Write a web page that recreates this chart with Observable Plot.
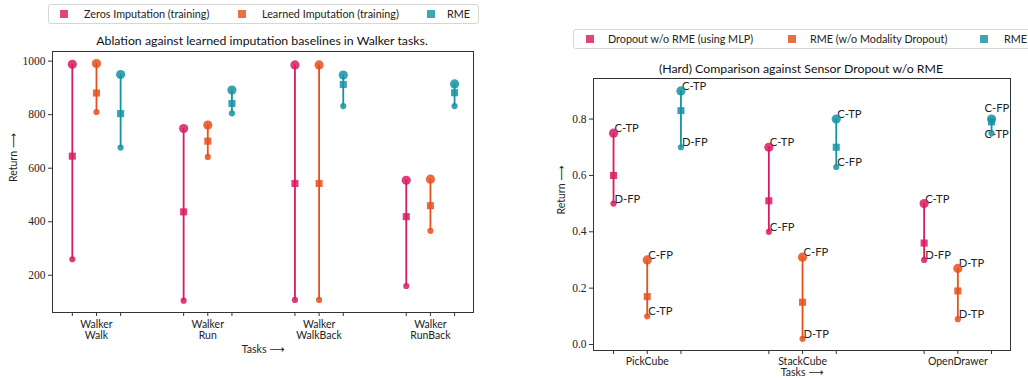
<!DOCTYPE html>
<html><head><meta charset="utf-8">
<script src="https://cdn.jsdelivr.net/npm/d3@7"></script>
<script src="https://cdn.jsdelivr.net/npm/@observablehq/plot@0.6"></script>
<style>
body{margin:0;width:1028px;height:378px;overflow:hidden;background:#fff;font-family:Lato,"DejaVu Sans",sans-serif;position:relative;color:#222}
.legend{position:absolute;border:1px solid #d6d6d6;border-radius:3px;box-sizing:border-box;font-size:10.8px}
.legend .sw{position:absolute;width:8px;height:8px;opacity:.82}
.legend .lt{position:absolute;white-space:nowrap;line-height:13px}
.title{position:absolute;font-size:12.3px;color:#111;transform:translate(-50%,-50%);white-space:nowrap}
.chart{position:absolute}
.serif-ticks, .serif-ticks text{font-family:"Liberation Serif","DejaVu Serif",serif !important}
</style></head><body>
<div id="legL" class="legend" style="left:48px;top:4px;width:431px;height:20px"></div>
<div class="title" style="left:262px;top:40px">Ablation against learned imputation baselines in Walker tasks.</div>
<div id="chartL" class="chart" style="left:0;top:46px"></div>
<div id="legR" class="legend" style="left:573px;top:29px;width:470px;height:20px"></div>
<div class="title" style="left:801px;top:68px">(Hard) Comparison against Sensor Dropout w/o RME</div>
<div id="chartR" class="chart" style="left:540px;top:74px"></div>
<script>
// ---------- Left chart data ----------
const tasksL = ["Walker\nWalk", "Walker\nRun", "Walker\nWalkBack", "Walker\nRunBack"];
const seriesL = ["Zeros Imputation (training)", "Learned Imputation (training)", "RME"];
const zerosMax = [988, 748, 986, 555];
const zerosMean = [645, 437, 543, 419];
const zerosMin = [260, 105, 108, 160];
const learnedMax = [991, 761, 986, 559];
const learnedMean = [881, 701, 543, 460];
const learnedMin = [810, 642, 108, 366];
const rmeLMax = [950, 892, 948, 915];
const rmeLMean = [804, 842, 913, 882];
const rmeLMin = [677, 805, 832, 832];
const yTicksL = [200, 400, 600, 800, 1000];

// ---------- Right chart data ----------
const tasksR = ["PickCube", "StackCube", "OpenDrawer"];
const seriesR = ["Dropout w/o RME (using MLP)", "RME (w/o Modality Dropout)", "RME"];
const dropMax = [0.75, 0.70, 0.50];
const dropMean = [0.60, 0.51, 0.36];
const dropMin = [0.50, 0.40, 0.30];
const dropMaxLab = ["C-TP", "C-TP", "C-TP"];
const dropMinLab = ["D-FP", "C-FP", "D-FP"];
const noMDMax = [0.30, 0.31, 0.27];
const noMDMean = [0.17, 0.15, 0.19];
const noMDMin = [0.10, 0.02, 0.09];
const noMDMaxLab = ["C-FP", "C-FP", "D-TP"];
const noMDMinLab = ["C-TP", "D-TP", "D-TP"];
const rmeRMax = [0.90, 0.80, 0.80];
const rmeRMean = [0.83, 0.70, 0.79];
const rmeRMin = [0.70, 0.63, 0.75];
const rmeRMaxLab = ["C-TP", "C-TP", "C-FP"];
const rmeRMinLab = ["D-FP", "C-FP", "C-TP"];
const yTicksR = [0, 0.2, 0.4, 0.6, 0.8];

// ---------- styling ----------
const colors = ["#D81B60", "#E6501B", "#1493A5"];
const OFF = 0.217;
const sans = "Lato, 'DejaVu Sans', sans-serif";
const serif = "'Liberation Serif', 'DejaVu Serif', serif";

function buildRows(tasks, series, groups) {
  const rows = [];
  tasks.forEach((t, i) => {
    groups.forEach((g, s) => {
      rows.push({task: t, ti: i, series: series[s], si: s, x: i + (s - 1) * OFF,
        max: g.max[i], mean: g.mean[i], min: g.min[i],
        maxLab: g.maxLab ? g.maxLab[i] : null, minLab: g.minLab ? g.minLab[i] : null});
    });
  });
  return rows;
}

function legend(el, series, swX, txtX) {
  const d = document.getElementById(el);
  series.forEach((s, i) => {
    const sw = document.createElement("div");
    sw.className = "sw"; sw.style.background = colors[i];
    sw.style.left = swX[i] + "px"; sw.style.top = "5px";
    const t = document.createElement("div");
    t.className = "lt"; t.textContent = s;
    t.style.left = txtX[i] + "px"; t.style.top = "2px";
    d.appendChild(sw); d.appendChild(t);
  });
}
legend("legL", seriesL, [11, 189, 378], [35, 213, 398]);
legend("legR", seriesR, [12, 214, 406], [34, 236, 430]);

function baseMarks(rows) {
  const ticks = rows.map(d => d.x);
  const labelAt = new Map(rows.filter(d => d.si === 1).map(d => [d.x, d.task]));
  return {ticks, labelAt, marks: [
    Plot.ruleX(rows, {x: "x", y1: "min", y2: "max", stroke: "series", strokeWidth: 1.8}),
    Plot.dot(rows, {x: "x", y: "max", r: 4.6, fill: "series", fillOpacity: 0.85, stroke: "none"}),
    Plot.dot(rows, {x: "x", y: "min", r: 3.1, fill: "series", fillOpacity: 0.85, stroke: "none"}),
    Plot.dot(rows, {x: "x", y: "mean", r: 4, symbol: "square", fill: "series", fillOpacity: 0.85, stroke: "none"})
  ]};
}

function serifY(chart) {
  chart.querySelectorAll('g[aria-label="y-axis tick label"]').forEach(g => {
    g.classList.add("serif-ticks");
    g.setAttribute("font-family", serif);
    g.querySelectorAll("text").forEach(t => { t.setAttribute("font-family", serif); t.style.fontFamily = serif; });
  });
}

// ---------- Left chart ----------
{
  const rows = buildRows(tasksL, seriesL, [
    {max: zerosMax, mean: zerosMean, min: zerosMin},
    {max: learnedMax, mean: learnedMean, min: learnedMin},
    {max: rmeLMax, mean: rmeLMean, min: rmeLMin}
  ]);
  const b = baseMarks(rows);
  const chart = Plot.plot({
    width: 500, height: 332,
    marginLeft: 52, marginRight: 27, marginTop: 5, marginBottom: 66,
    style: {fontFamily: sans, fontSize: "10.5px", color: "#222", background: "transparent"},
    x: {type: "linear", domain: [-0.395, 3.387]},
    y: {domain: [61, 1036]},
    color: {domain: seriesL, range: colors},
    marks: [
      ...b.marks,
      Plot.frame({stroke: "#333", strokeWidth: 1}),
      Plot.axisY({ticks: yTicksL, tickSize: 4, tickPadding: 3, label: null, fontSize: 11.5, fontFamily: serif, stroke: "#333",
        tickFormat: d3.format("d")}),
      Plot.axisX({ticks: b.ticks, tickSize: 4, tickPadding: 3, label: null, fontSize: 10.5, lineHeight: 1.08, stroke: "#333",
        tickFormat: d => b.labelAt.get(d) ?? ""}),
      Plot.text(["Tasks ⟶"], {frameAnchor: "bottom", dy: 40, text: d => d, fontSize: 10.5}),
      Plot.text(["Return ⟶"], {frameAnchor: "left", dx: -39, rotate: -90, text: d => d, fontSize: 10.5})
    ]
  });
  serifY(chart);
  document.getElementById("chartL").appendChild(chart);
}

// ---------- Right chart ----------
{
  const rows = buildRows(tasksR, seriesR, [
    {max: dropMax, mean: dropMean, min: dropMin, maxLab: dropMaxLab, minLab: dropMinLab},
    {max: noMDMax, mean: noMDMean, min: noMDMin, maxLab: noMDMaxLab, minLab: noMDMinLab},
    {max: rmeRMax, mean: rmeRMean, min: rmeRMin, maxLab: rmeRMaxLab, minLab: rmeRMinLab}
  ]);
  const b = baseMarks(rows);
  // labels near the right edge were nudged left in the original
  const isEdge = d => d.ti === tasksR.length - 1 && d.si === 2;
  const normal = rows.filter(d => !isEdge(d));
  const edge = rows.filter(isEdge);
  const lab = {textAnchor: "start", lineAnchor: "bottom", fontSize: 11.2, fill: "#222"};
  const chart = Plot.plot({
    width: 488, height: 304,
    marginLeft: 53, marginRight: 18, marginTop: 4, marginBottom: 28,
    style: {fontFamily: sans, fontSize: "10.5px", color: "#222", background: "transparent", overflow: "visible"},
    x: {type: "linear", domain: [-0.346, 2.339]},
    y: {domain: [-0.0213, 0.944]},
    color: {domain: seriesR, range: colors},
    marks: [
      Plot.text(normal, {x: "x", y: "max", text: "maxLab", dx: 1, dy: -1, ...lab}),
      Plot.text(normal, {x: "x", y: "min", text: "minLab", dx: 1, dy: -1, ...lab}),
      Plot.text(edge, {x: "x", y: "max", text: "maxLab", dx: -7, dy: -7, ...lab}),
      Plot.text(edge, {x: "x", y: "min", text: "minLab", dx: -7, dy: 5, ...lab}),
      ...b.marks,
      Plot.frame({stroke: "#333", strokeWidth: 1}),
      Plot.axisY({ticks: yTicksR, tickSize: 4, tickPadding: 3, label: null, fontSize: 11.5, fontFamily: serif, stroke: "#333",
        tickFormat: d3.format(".1f")}),
      Plot.axisX({ticks: b.ticks, tickSize: 4, tickPadding: 3, label: null, fontSize: 10.5, stroke: "#333",
        tickFormat: d => b.labelAt.get(d) ?? ""}),
      Plot.text(["Tasks ⟶"], {frameAnchor: "bottom", dy: 25, text: d => d, fontSize: 10.5}),
      Plot.text(["Return ⟶"], {frameAnchor: "left", dx: -32, rotate: -90, text: d => d, fontSize: 10.5})
    ]
  });
  serifY(chart);
  document.getElementById("chartR").appendChild(chart);
}
</script>
</body></html>
